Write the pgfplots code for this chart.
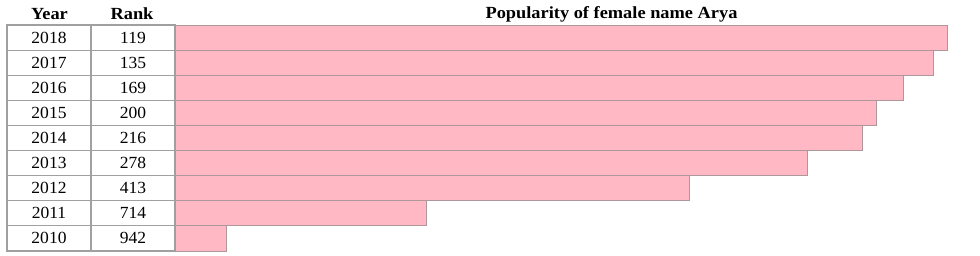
\documentclass[border=0pt]{standalone}
\usepackage{pgfplots}
\usepackage{pgfplotstable}
\usepackage{fontspec}
\setmainfont{Liberation Serif}[BoldFont={Liberation Serif Bold}]
\pgfplotsset{compat=1.18}
\definecolor{barpink}{RGB}{255,184,196}
\definecolor{barline}{RGB}{175,150,155}
\definecolor{cellline}{RGB}{160,160,160}
% row centre (pixel y), year, rank, bar length (px)
\pgfplotstableread{
y     year rank len
37.6  2018 119  772
62.7  2017 135  758
87.8  2016 169  728
112.9 2015 200  701
138.0 2014 216  687
163.1 2013 278  632
188.2 2012 413  514
213.3 2011 714  251
238.4 2010 942  51
}\datatable
\begin{document}
\begin{tikzpicture}
\begin{axis}[
  name=tab,
  scale only axis, width=980pt, height=255pt,
  xmin=0, xmax=980, ymin=0, ymax=255, y dir=reverse,
  hide axis, clip=false,
]
\path (axis cs:0,0) rectangle (axis cs:980,255);
% table grid
\draw[cellline, line width=1.1pt] (axis cs:7,25) rectangle (axis cs:175,251);
\draw[cellline, line width=1.1pt] (axis cs:91,25) -- (axis cs:91,251);
\pgfplotsinvokeforeach{50.1,75.2,100.3,125.4,150.5,175.6,200.7,225.8}{
  \draw[cellline, line width=1.1pt] (axis cs:7,#1) -- (axis cs:175,#1);
}
% headers
\node[font=\fontsize{17}{19}\selectfont\rmfamily\bfseries] at (axis cs:49.5,14) {\scalebox{1.08}[1]{Year}};
\node[font=\fontsize{17}{19}\selectfont\rmfamily\bfseries] at (axis cs:132,14) {\scalebox{1.08}[1]{Rank}};
\node[font=\fontsize{17}{19}\selectfont\rmfamily\bfseries] at (axis cs:611.5,14) {\scalebox{1.08}[1]{Popularity of female name Arya}};
% year and rank columns
\addplot[draw=none, mark=none, nodes near coords={\fontsize{17}{19}\selectfont\rmfamily\scalebox{1.03}[1]{\pgfplotspointmeta}},
  nodes near coords align={center}, point meta=explicit symbolic]
  table[x expr=49, y=y, meta=year] {\datatable};
\addplot[draw=none, mark=none, nodes near coords={\fontsize{17}{19}\selectfont\rmfamily\scalebox{1.03}[1]{\pgfplotspointmeta}},
  nodes near coords align={center}, point meta=explicit symbolic]
  table[x expr=133, y=y, meta=rank] {\datatable};
\end{axis}
\begin{axis}[
  at={(175pt,0pt)}, anchor=south west,
  scale only axis, width=805pt, height=255pt,
  xmin=0, xmax=805, ymin=0, ymax=255, y dir=reverse,
  hide axis,
  xbar, bar width=25.1,
]
\addplot[fill=barpink, draw=barline, line width=0.9pt] table[x=len, y=y] {\datatable};
\end{axis}
\end{tikzpicture}
\end{document}
